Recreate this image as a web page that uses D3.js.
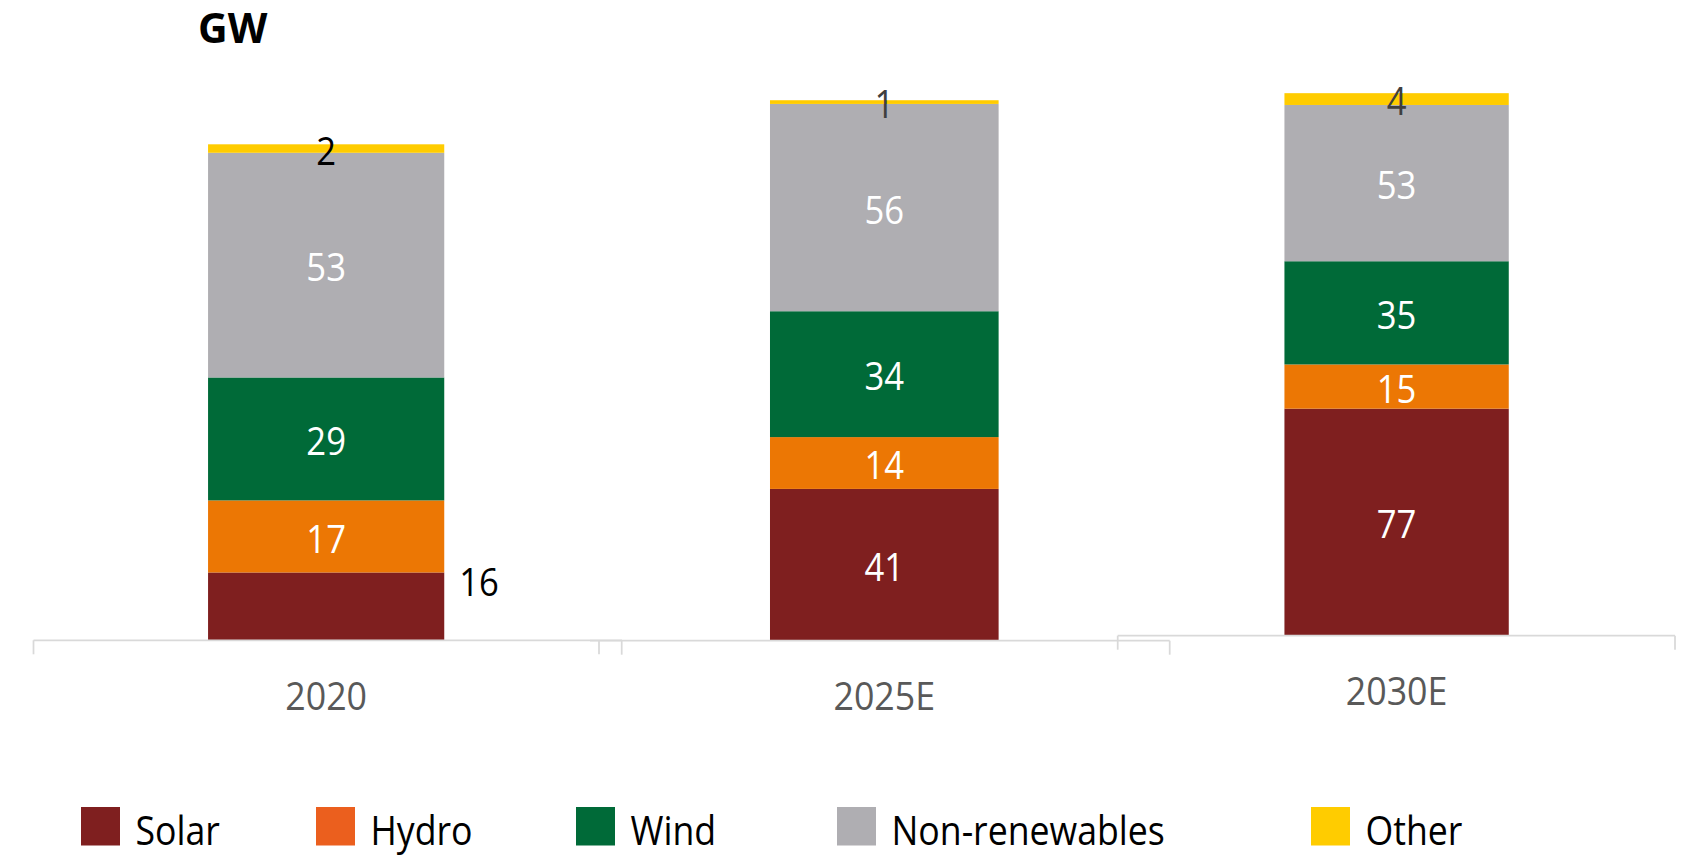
<!DOCTYPE html>
<html>
<head>
<meta charset="utf-8">
<script src="https://cdn.jsdelivr.net/npm/d3@7"></script>
<style>
  html, body { margin: 0; padding: 0; background: #ffffff; }
  svg { display: block; }
  text { font-family: "Open Sans", "Noto Sans", sans-serif; }
</style>
</head>
<body>
<svg id="chart" width="1691" height="857"></svg>
<script>
// Installed capacity by source, GW
const categories = ["2020", "2025E", "2030E"];
const seriesNames = ["Solar", "Hydro", "Wind", "Non-renewables", "Other"];
const solar = [16, 41, 77];
const hydro = [17, 14, 15];
const wind = [29, 34, 35];
const nonRenewables = [53, 56, 53];
const other = [2, 1, 4];
// each year is its own small chart with its own value-axis maximum
const axisMax = [140, 160, 200];
// the 2020 solar label sits beside the bar instead of inside it
const solarLabelOutside = [true, false, false];
const unitLabel = "GW";

const seriesValues = [solar, hydro, wind, nonRenewables, other];
const barColors = ["#7F1F1F", "#EC7704", "#006A38", "#AFAEB2", "#FFCC00"];
const legendColors = ["#7F1F1F", "#EB5F1E", "#006A38", "#AFAEB2", "#FFCC00"];

// panel frames: band range for the bar, baseline, plot height, axis line extent
const panels = [
  { band: [40.5, 611.8],   base: 640.3, h: 593.5, line: [33.5, 622],    ticks: [33.5, 599] },
  { band: [607.8, 1160.8], base: 640.7, h: 592.3, line: [590, 1169.7],  ticks: [621.7, 1169.7] },
  { band: [1125.3, 1667.9], base: 635.7, h: 589.7, line: [1117.7, 1675], ticks: [1117.7, 1675] }
];
const legendX = [81, 316, 576, 837, 1311];

const svg = d3.select("#chart");

// horizontally condensed text helper
function label(g, x, y, str, opts) {
  const t = g.append("text")
    .attr("transform", `translate(${x},${y}) scale(${opts.sx || 1},1)`)
    .attr("text-anchor", opts.anchor || "middle")
    .attr("font-size", opts.size)
    .attr("fill", opts.fill || "#000")
    .text(str);
  if (opts.weight) t.attr("font-weight", opts.weight);
  return t;
}

// title
label(svg, 198, 43, unitLabel, { size: 41, weight: 700, anchor: "start", fill: "#000" });

const stack = d3.stack().keys(d3.range(seriesNames.length));
const rows = categories.map((c, i) => seriesValues.map(s => s[i]));
const stacked = stack(rows);

const dataSize = 38.5;
const dataSx = 0.9;

categories.forEach((cat, i) => {
  const p = panels[i];
  const g = svg.append("g");
  const x = d3.scaleBand().domain([cat]).range(p.band).paddingInner(0.415).paddingOuter(0.415);
  const y = d3.scaleLinear().domain([0, axisMax[i]]).range([p.base, p.base - p.h]);

  const bx = x(cat), bw = x.bandwidth(), cx = bx + bw / 2;

  // stacked segments
  stacked.forEach((layer, k) => {
    const d = layer[i];
    g.append("rect")
      .attr("x", bx)
      .attr("width", bw)
      .attr("y", y(d[1]))
      .attr("height", y(d[0]) - y(d[1]))
      .attr("fill", barColors[k]);
  });

  // axis line with end ticks
  g.append("line")
    .attr("x1", p.line[0]).attr("x2", p.line[1])
    .attr("y1", p.base).attr("y2", p.base)
    .attr("stroke", "#D9D9D9").attr("stroke-width", 1.75);
  p.ticks.forEach(tx => {
    g.append("line")
      .attr("x1", tx).attr("x2", tx)
      .attr("y1", p.base).attr("y2", p.base + 14)
      .attr("stroke", "#D9D9D9").attr("stroke-width", 1.75);
  });

  // category label
  label(g, cx, p.base + 69.5, cat, { size: 38.5, sx: 0.93, fill: "#595959" });

  // value labels
  stacked.forEach((layer, k) => {
    const d = layer[i];
    const v = seriesValues[k][i];
    const mid = (y(d[0]) + y(d[1])) / 2;
    const off = dataSize * 0.357 + 2.5;
    if (k === 0 && solarLabelOutside[i]) {
      label(g, bx + bw + 15, y(d[1]) + 7.5 + off, v, { size: dataSize, sx: dataSx, anchor: "start", fill: "#000" });
    } else if (k === seriesNames.length - 1) {
      label(g, cx, mid + off, v, { size: dataSize, sx: dataSx, fill: i === 0 ? "#000" : "#3F3F3F" });
    } else {
      label(g, cx, mid + off, v, { size: dataSize, sx: dataSx, fill: "#FFFFFF" });
    }
  });
});

// legend
const lg = svg.append("g");
seriesNames.forEach((name, k) => {
  lg.append("rect")
    .attr("x", legendX[k]).attr("y", 807)
    .attr("width", 39).attr("height", 38.5)
    .attr("fill", legendColors[k]);
  label(lg, legendX[k] + 54.5, 845, name, { size: 41, sx: 0.87, anchor: "start", fill: "#000" });
});
</script>
</body>
</html>
